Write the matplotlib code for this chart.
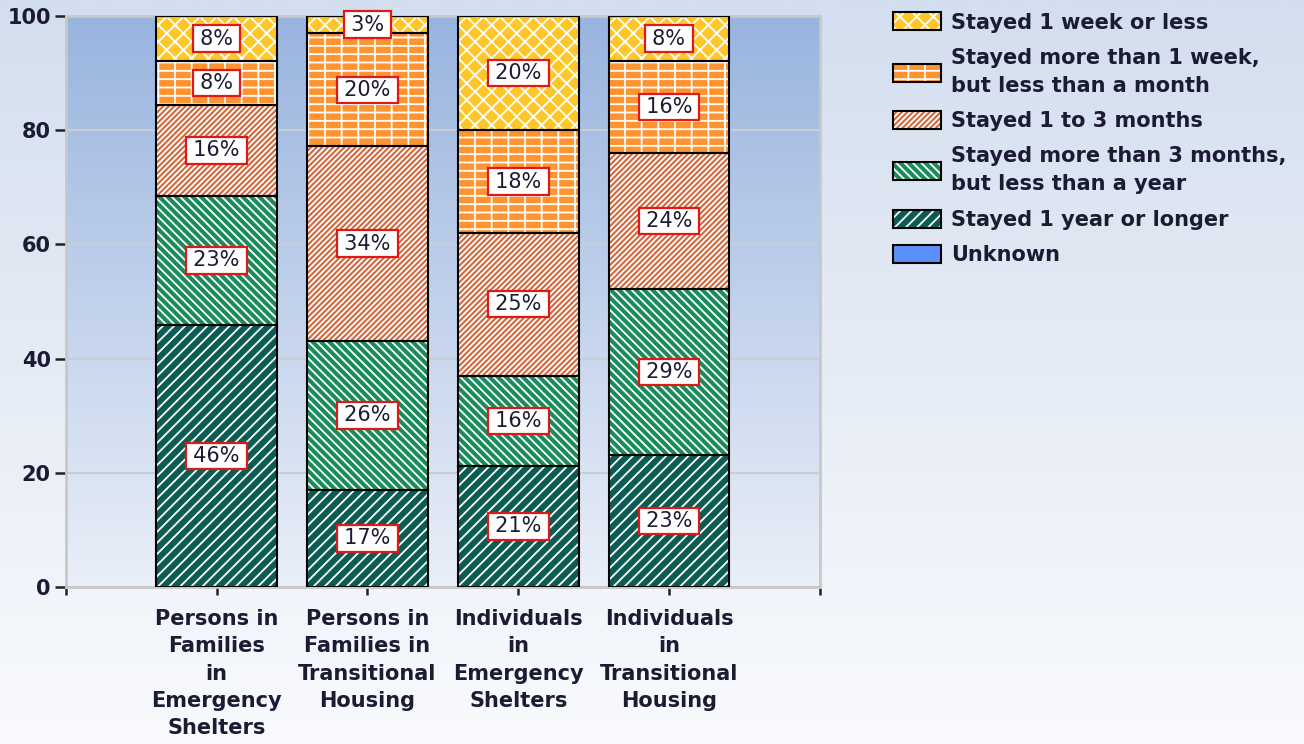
import numpy as np
import matplotlib.pyplot as plt
from matplotlib.patches import Patch
from matplotlib.colors import LinearSegmentedColormap

# data (percent; bottom -> top of each bar)
categories = ["Persons in\nFamilies\nin\nEmergency\nShelters",
              "Persons in\nFamilies in\nTransitional\nHousing",
              "Individuals\nin\nEmergency\nShelters",
              "Individuals\nin\nTransitional\nHousing"]
year_or_longer = [45.9, 17.0, 21.2, 23.1]
months3_to_year = [22.6, 26.1, 15.8, 29.1]
months1_to_3 = [15.9, 34.1, 25.0, 23.8]
week_to_month = [7.7, 19.8, 18.0, 16.1]
week_or_less = [7.9, 3.0, 20.0, 7.9]
unknown = [0, 0, 0, 0]

series_labels = ["Stayed 1 year or longer",
                 "Stayed more than 3 months,\nbut less than a year",
                 "Stayed 1 to 3 months",
                 "Stayed more than 1 week,\nbut less than a month",
                 "Stayed 1 week or less",
                 "Unknown"]
series_values = [year_or_longer, months3_to_year, months1_to_3,
                 week_to_month, week_or_less, unknown]
colors = ["#0b5c52", "#1a8c5c", "#d2693f", "#ff9330", "#ffc629", "#5b8ff9"]
hatches = ["///", "\\\\\\\\", "//////", "--|", "xx", None]
legend_order = [4, 3, 2, 1, 0, 5]
yticks = [0, 20, 40, 60, 80, 100]

txt = "#1b1b33"
plt.rcParams['font.family'] = ['DejaVu Sans']
plt.rcParams['hatch.linewidth'] = 1.3

fig = plt.figure(figsize=(13.04, 7.44), dpi=100)

# figure background gradient
bg = fig.add_axes([0, 0, 1, 1], zorder=-10)
bg_cmap = LinearSegmentedColormap.from_list("bg", ["#f9fafd", "#d3deee"])
bg.imshow(np.linspace(0, 1, 256).reshape(-1, 1), cmap=bg_cmap, aspect='auto',
          origin='lower', extent=(0, 1, 0, 1))
bg.axis('off')

ax = fig.add_axes([0.0506, 0.211, 0.578, 0.7675])
ax.patch.set_alpha(0)
ax_cmap = LinearSegmentedColormap.from_list("ax", ["#eaeff8", "#99b4df"])
ax.imshow(np.linspace(0, 1, 256).reshape(-1, 1), cmap=ax_cmap, aspect='auto',
          origin='lower', extent=(-1, 4, 0, 100), zorder=0)

x = np.arange(len(categories))
bottom = np.zeros(len(categories))
handles = []
for vals, lab, col, h in zip(series_values, series_labels, colors, hatches):
    vals = np.array(vals, dtype=float)
    ax.bar(x, vals, 0.8, bottom=bottom, color=col, hatch=h, edgecolor='white',
           linewidth=0, zorder=2)
    ax.bar(x, vals, 0.8, bottom=bottom, fill=False, edgecolor='black',
           linewidth=1.5, zorder=3)
    for xi, v, b in zip(x, vals, bottom):
        if v > 0:
            ax.text(xi, b + v / 2, f"\u2009{round(v):.0f}%\u2009", ha='center',
                    va='center', fontsize=15, color=txt, zorder=6, clip_on=False,
                    bbox=dict(boxstyle='square,pad=0.15', facecolor='white',
                              edgecolor='#e01818', linewidth=1.6))
    bottom += vals
    handles.append((Patch(facecolor=col, hatch=h, edgecolor='white', linewidth=0),
                    Patch(fill=False, edgecolor='black', linewidth=1.5)))

ax.set_xlim(-1, 4)
ax.set_ylim(0, 100)
ax.set_yticks(yticks)
ax.set_yticklabels([str(t) for t in yticks], fontsize=15, color=txt,
                   fontweight='bold')
ax.set_xticks([-1, 0, 1, 2, 3, 4])
ax.set_xticklabels([""] + categories + [""], fontsize=15, color=txt,
                   fontweight='bold', linespacing=1.45)
ax.tick_params(axis='y', length=8, width=1.8, color='#222222', pad=3)
ax.tick_params(axis='x', length=6, width=1.8, color='#222222', pad=10)
ax.grid(axis='y', color='#c9cdd4', linewidth=1.5, zorder=1)
ax.set_axisbelow(True)
for s in ax.spines.values():
    s.set_color('#c8c8c8')
    s.set_linewidth(2)

leg = fig.legend([handles[i] for i in legend_order],
                 [series_labels[i] for i in legend_order], loc='upper left',
                 bbox_to_anchor=(0.675, 1.0), frameon=False,
                 prop={'size': 15, 'weight': 'bold'},
                 handlelength=2.3, handleheight=0.95, handletextpad=0.5,
                 labelspacing=0.73, labelcolor=txt, borderaxespad=0.2)
for t in leg.get_texts():
    t.set_linespacing(1.5)

plt.savefig("out.png", dpi=100)
